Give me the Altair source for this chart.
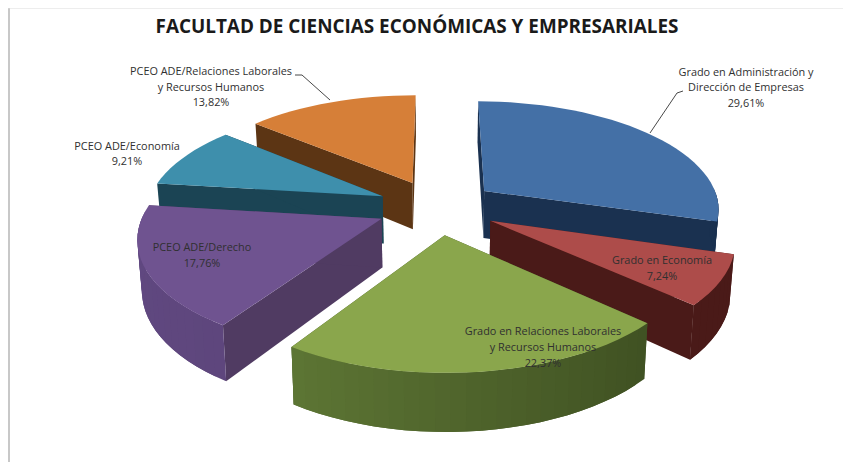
import math
import altair as alt

title = "FACULTAD DE CIENCIAS ECONÓMICAS Y EMPRESARIALES"
categories = [
    "Grado en Administración y Dirección de Empresas",
    "Grado en Economía",
    "Grado en Relaciones Laborales y Recursos Humanos",
    "PCEO ADE/Derecho",
    "PCEO ADE/Economía",
    "PCEO ADE/Relaciones Laborales y Recursos Humanos",
]
shares = [29.61, 7.24, 22.37, 17.76, 9.21, 13.82]
share_labels = ["29,61%", "7,24%", "22,37%", "17,76%", "9,21%", "13,82%"]

top_colors = ["#4470a6", "#ad4c4a", "#8aa64c", "#6f5390", "#3e8fac", "#d67f38"]
cut_colors = ["#1a3150", "#4a1a18", "#44562a", "#503b62", "#1b4454", "#5c3514"]
arc_left = ["#1a3150", "#4a1a18", "#67823a", "#604880", "#1b4454", "#5c3514"]
arc_right = ["#1a3150", "#4a1a18", "#3a4a1f", "#574070", "#1b4454", "#5c3514"]

# page pixel -> chart pixel
OX, OY = 8, 8
CX, CY, A, B, P, E, H, SHRINK = 437, 207, 236, 107.5, 0.15, 0.255, 48, 0.985


def project(X, Y, low=False):
    w = 1 / (1 + P * Y)
    x = CX + A * X * w
    y = CY - B * Y * w
    if low:
        x = CX + (x - CX) * SHRINK
        y = y + H * w
    return [x - OX, y - OY]


def poly(pts, fill):
    ring = pts + [pts[0]]
    return {"type": "Feature",
            "geometry": {"type": "Polygon", "coordinates": [ring]},
            "properties": {"fill": fill}}


def mix(c1, c2, t):
    a = [int(c1[i:i + 2], 16) for i in (1, 3, 5)]
    b = [int(c2[i:i + 2], 16) for i in (1, 3, 5)]
    return "#" + "".join(f"{round(u + (v - u) * t):02x}" for u, v in zip(a, b))


def slice_features(i, start, end):
    mid = math.radians((start + end) / 2)
    ex, ey = E * math.sin(mid), E * math.cos(mid)
    n = max(8, int(end - start) // 3)
    angs = [math.radians(start + (end - start) * k / n) for k in range(n + 1)]
    rim = [(ex + math.sin(a), ey + math.cos(a)) for a in angs]
    out = []
    # the two cut faces
    for p in (rim[0], rim[-1]):
        out.append(poly([project(ex, ey), project(*p),
                         project(*p, low=True), project(ex, ey, low=True)],
                        cut_colors[i]))
    # the outer wall, where it faces the viewer: one overlapping band per step,
    # painted so that no seam shows between neighbours
    for k in range(n):
        a = (angs[k] + angs[k + 1]) / 2
        if math.cos(a) > 0.02:
            continue
        s = math.sin(a)
        # the wall is painted from the far end of the overlap back towards the start
        band = rim[k:k + 3]
        upper = [project(*p) for p in band]
        lower = [project(*p, low=True) for p in reversed(band)]
        out.append(poly(upper + lower, mix(arc_left[i], arc_right[i], (s + 1) / 2)))
    # the top face
    out.append(poly([project(ex, ey)] + [project(*p) for p in rim], top_colors[i]))
    return out


total = sum(shares)
bounds = []
acc = 0
for v in shares:
    bounds.append((acc / total * 360, (acc + v) / total * 360))
    acc += v

features = []
for i in (5, 4, 0, 3, 1, 2):   # back to front
    features += slice_features(i, *bounds[i])

W, H_PAGE = 835, 454
identity = dict(type="identity", scale=1, translate=[0, 0])

pie = (
    alt.Chart(alt.InlineData(values=features))
    .mark_geoshape(strokeWidth=0)
    .encode(fill=alt.Fill("properties.fill:N", scale=None))
    .project(**identity)
)


def leader(points):
    return {"type": "Feature",
            "geometry": {"type": "LineString",
                         "coordinates": [[x - OX, y - OY] for x, y in points]},
            "properties": {}}


leaders = (
    alt.Chart(alt.InlineData(values=[
        leader([(295, 75), (302, 75), (330, 100)]),
        leader([(683, 91), (677, 93), (650, 133)]),
    ]))
    .mark_geoshape(filled=False, stroke="#333333", strokeWidth=0.9)
    .project(**identity)
)

border = alt.Chart(alt.InlineData(values=[{"a": 1}])).mark_rule(
    color="#c8c8c8", strokeWidth=2
).encode(x=alt.value(1), y=alt.value(0), y2=alt.value(H_PAGE))
border_top = alt.Chart(alt.InlineData(values=[{"a": 1}])).mark_rule(
    color="#dcdcdc", strokeWidth=1
).encode(x=alt.value(0), x2=alt.value(W), y=alt.value(0))

label_lines = [
    ("Grado en Administración y", 746, 73),
    ("Dirección de Empresas", 746, 88),
    (share_labels[0], 746, 104),
    ("Grado en Economía", 662, 261),
    (share_labels[1], 662, 277),
    ("Grado en Relaciones Laborales", 543, 332),
    ("y Recursos Humanos", 543, 348),
    (share_labels[2], 543, 364),
    ("PCEO ADE/Derecho", 202, 248),
    (share_labels[3], 202, 264),
    ("PCEO ADE/Economía", 127, 147),
    (share_labels[4], 127, 162),
    ("PCEO ADE/Relaciones Laborales", 211, 72),
    ("y Recursos Humanos", 211, 88),
    (share_labels[5], 211, 103),
]

layers = [pie, leaders, border, border_top]
for text, x, y in label_lines:
    layers.append(
        alt.Chart(alt.InlineData(values=[{"t": text}]))
        .mark_text(font="Open Sans", fontSize=10.9, color="#303030",
                   align="center", baseline="middle")
        .encode(text="t:N", x=alt.value(x - OX), y=alt.value(y - OY))
    )
layers.append(
    alt.Chart(alt.InlineData(values=[{"t": title}]))
    .mark_text(font="Open Sans", fontSize=18.9, fontWeight="bold", color="#1a1a1a",
               align="center", baseline="middle")
    .encode(text="t:N", x=alt.value(417 - OX), y=alt.value(27 - OY))
)

chart = (
    alt.layer(*layers)
    .properties(width=W, height=H_PAGE, padding=0, autosize=alt.AutoSizeParams(type="none"),
                background="white")
    .configure_view(stroke=None)
)
chart.save("out.html", embed_options={"renderer": "svg", "actions": False})
